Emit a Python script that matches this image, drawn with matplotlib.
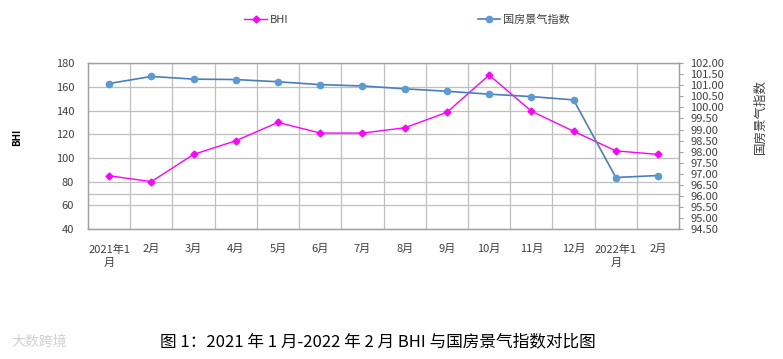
import matplotlib
matplotlib.use("Agg")
import matplotlib.pyplot as plt
from matplotlib.lines import Line2D

plt.rcParams['font.family'] = ['Noto Sans CJK SC', 'DejaVu Sans']

# -------- data --------
months = ["2021年1\n月", "2月", "3月", "4月", "5月", "6月", "7月", "8月",
          "9月", "10月", "11月", "12月", "2022年1\n月", "2月"]
bhi = [85, 80, 103, 114.5, 130, 121, 121, 125.5, 138.5, 170, 139.5, 122.5, 106, 103]
housing = [101.08, 101.40, 101.28, 101.26, 101.16, 101.03, 100.97, 100.84,
           100.73, 100.60, 100.49, 100.34, 96.83, 96.92]
left_ticks = [40, 60, 80, 100, 120, 140, 160, 180]
right_ticks = [94.5 + 0.5 * i for i in range(16)]

pink = "#FF00FF"
blue_line = "#4A7EBB"
blue_mark = "#5B9BD5"
grid_c = "#BFBFBF"
txt_c = "#404040"

fig = plt.figure(figsize=(7.83, 3.59), dpi=100)
ax = fig.add_axes([0.1124, 0.362, 0.755, 0.462])
ax2 = ax.twinx()

x = list(range(len(months)))

ax.plot(x, bhi, color=pink, lw=1.0, marker="D", ms=3.5, zorder=3)
ax2.plot(x, housing, color=blue_line, lw=1.2, marker="o", ms=4.5,
         mfc=blue_mark, mec=blue_mark, zorder=3)

ax.set_xlim(-0.5, len(months) - 0.5)
ax.set_ylim(40, 180)
ax2.set_ylim(94.5, 102)

ax.set_yticks(left_ticks)
ax.set_yticks([70], minor=True)
ax2.set_yticks(right_ticks)
ax2.set_yticklabels(["%.2f" % v for v in right_ticks])

ax.set_xticks([i + 0.5 for i in x[:-1]], minor=True)
ax.set_xticks(x)
ax.set_xticklabels(months)

ax.grid(True, which="major", axis="y", color=grid_c, lw=0.9)
ax.grid(True, which="minor", color=grid_c, lw=0.9)
ax.set_axisbelow(True)

for a in (ax, ax2):
    for s in a.spines.values():
        s.set_color("#A0A0A0")
        s.set_linewidth(0.9)

ax.tick_params(axis="x", which="both", length=0, labelsize=8, colors=txt_c, pad=11)
ax.tick_params(axis="y", which="both", length=0, labelsize=8, colors=txt_c, pad=10)
ax2.tick_params(axis="y", length=3, color="#A0A0A0", labelsize=8, colors=txt_c, pad=5)
for lb in ax.get_xticklabels():
    lb.set_linespacing(1.45)
    lb.set_verticalalignment("top")

ax.set_ylabel("BHI", fontsize=7, fontweight="bold", color="black")
ax.yaxis.set_label_coords(-0.112, 0.55)
ax2.set_ylabel("国房景气指数", fontsize=9, color=txt_c)
ax2.yaxis.set_label_coords(1.127, 0.68)

handles = [
    Line2D([], [], color=pink, lw=1.0, marker="D", ms=3.5),
    Line2D([], [], color=blue_line, lw=1.2, marker="o", ms=4.5, mfc=blue_mark, mec=blue_mark),
]
leg = fig.legend(handles, ["BHI", "国房景气指数"], loc="center", bbox_to_anchor=(0.52, 0.944),
                 ncol=2, frameon=False, fontsize=8, columnspacing=17, handlelength=2.0,
                 handletextpad=0.3)
for t in leg.get_texts():
    t.set_color(txt_c)

fig.text(0.483, 0.047, "图 1：2021 年 1 月-2022 年 2 月 BHI 与国房景气指数对比图", ha="center",
         va="center", fontsize=12, color="black")
fig.text(0.015, 0.047, "大数跨境", ha="left", va="center", fontsize=10, color="#D0D0D0")

fig.savefig("out.png", dpi=100)
